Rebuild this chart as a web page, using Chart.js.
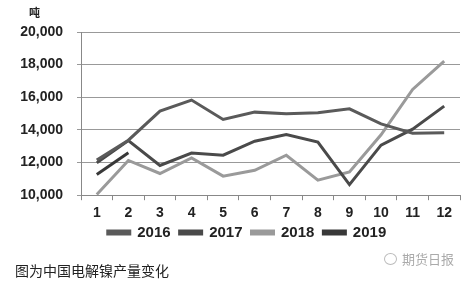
<!DOCTYPE html>
<html>
<head>
<meta charset="utf-8">
<script src="https://cdn.jsdelivr.net/npm/chart.js@4.4.0/dist/chart.umd.min.js"></script>
<style>
  html, body { margin: 0; padding: 0; background: #fff; }
  #wrap { position: relative; width: 472px; height: 282px; overflow: hidden; }
  #chart { position: absolute; left: 0; top: 0; }
  .unit { position: absolute; left: 29px; top: 4px; font: bold 11px "Noto Sans CJK SC", sans-serif; color: #222; }
  .caption { position: absolute; left: 15px; top: 260px; font: 14px "Noto Sans CJK SC", sans-serif; color: #222; line-height: 20px; }
  .mark { position: absolute; left: 384px; top: 251px; font: 13px "Noto Sans CJK SC", sans-serif; color: #aaa; line-height: 16px; }
  .mark i { display: inline-block; width: 11px; height: 10px; border: 1px solid #bbb; border-radius: 50%; margin-right: 5px; vertical-align: -1px; }
</style>
</head>
<body>
<div id="wrap">
  <canvas id="chart" width="472" height="282"></canvas>
  <div class="unit">吨</div>
  <div class="caption">图为中国电解镍产量变化</div>
  <div class="mark"><i></i>期货日报</div>
</div>
<script>
  // months on the x axis
  const months = ['1', '2', '3', '4', '5', '6', '7', '8', '9', '10', '11', '12'];

  // electrolytic nickel output, tonnes
  const y2016 = [12150, 13370, 15150, 15830, 14640, 15090, 14990, 15050, 15290, 14370, 13800, 13820];
  const y2017 = [11980, 13350, 11820, 12580, 12450, 13310, 13720, 13250, 10650, 13070, 14050, 15460];
  const y2018 = [10040, 12130, 11330, 12290, 11170, 11530, 12450, 10920, 11430, 13700, 16480, 18220];
  const y2019 = [11270, 12600];

  const seriesNames = ['2016', '2017', '2018', '2019'];
  const seriesColors = ['#5a5a5a', '#4a4a4a', '#9a9a9a', '#383838'];

  const datasets = [y2016, y2017, y2018, y2019].map((data, i) => ({
    label: seriesNames[i],
    data,
    borderColor: seriesColors[i],
    backgroundColor: seriesColors[i],
    borderWidth: 3,
    pointRadius: 0,
    tension: 0,
    fill: false,
  }));

  const tickFont = { family: '"Liberation Sans", Arial, sans-serif', size: 14, weight: 'bold' };

  // pull the legend up closer to the month labels, nudge it a bit right
  const liftLegend = {
    id: 'liftLegend',
    afterLayout(chart) {
      const lg = chart.legend;
      if (!lg) return;
      lg.top -= 11;
      lg.bottom -= 11;
      lg.left += 7;
      lg.right += 7;
    },
  };

  new Chart(document.getElementById('chart'), {
    type: 'line',
    data: { labels: months, datasets },
    plugins: [liftLegend],
    options: {
      responsive: false,
      animation: false,
      layout: { padding: { left: 20, right: 12, top: 32, bottom: 21 } },
      plugins: {
        tooltip: { enabled: false },
        legend: {
          display: true,
          position: 'bottom',
          labels: {
            color: '#222',
            font: { ...tickFont, size: 15 },
            boxWidth: 22,
            boxHeight: 3,
            padding: 9,
          },
        },
      },
      scales: {
        x: {
          offset: true,
          grid: { drawOnChartArea: false, drawTicks: true, tickLength: 5, color: '#888', offset: true },
          border: { color: '#888' },
          ticks: { color: '#222', font: tickFont, padding: 5, maxRotation: 0 },
        },
        y: {
          min: 10000,
          max: 20000,
          grid: { color: '#999', tickLength: 4 },
          border: { color: '#888' },
          ticks: {
            stepSize: 2000,
            color: '#222',
            font: tickFont,
            padding: 14,
            callback: v => v.toLocaleString('en-US'),
          },
          afterFit: scale => { scale.width = 61; },
        },
      },
    },
  });
</script>
</body>
</html>
